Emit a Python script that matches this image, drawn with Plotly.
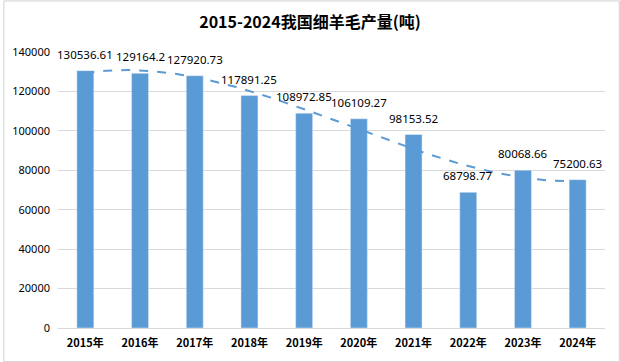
import numpy as np
import plotly.graph_objects as go

years = ["2015年", "2016年", "2017年", "2018年", "2019年", "2020年", "2021年", "2022年", "2023年", "2024年"]
output = [130536.61, 129164.2, 127920.73, 117891.25, 108972.85, 106109.27, 98153.52, 68798.77, 80068.66, 75200.63]
labels = ["130536.61", "129164.2", "127920.73", "117891.25", "108972.85", "106109.27", "98153.52", "68798.77", "80068.66", "75200.63"]

xs = list(range(len(years)))
coef = np.polyfit(xs, output, 3)
xt = np.linspace(0, len(years) - 1, 200)
yt = np.polyval(coef, xt)

fig = go.Figure()
fig.add_trace(go.Bar(x=xs, y=output, marker_color="#5B9BD5", width=0.31, hoverinfo="y"))
fig.add_trace(go.Scatter(x=xt, y=yt, mode="lines", line=dict(color="#5B9BD5", width=2, dash="dash"), hoverinfo="skip"))

for i, (v, t) in enumerate(zip(output, labels)):
    fig.add_annotation(x=i, y=v, text=t, showarrow=False, yanchor="bottom", yshift=7,
                       font=dict(size=11.5, color="#000000", family="Noto Sans, Noto Sans CJK SC"))

fig.add_shape(type="rect", xref="paper", yref="paper", x0=-0.099, x1=1.026, y0=-0.122, y1=1.185,
              line=dict(color="#D0D0D0", width=1))

fig.update_layout(
    width=620, height=362,
    margin=dict(l=55, r=15, t=52, b=34),
    paper_bgcolor="white", plot_bgcolor="white",
    showlegend=False,
    title=dict(text="<b>2015-2024我国细羊毛产量(吨)</b>", x=0.5, xanchor="center", y=0.937, yanchor="middle",
               font=dict(size=16, color="#000000", family="Noto Sans CJK SC")),
    xaxis=dict(tickvals=xs, ticktext=["<b>%s</b>" % y for y in years], range=[-0.5, 9.5],
               showgrid=False, showline=True, linecolor="#D9D9D9", ticks="", ticklabelstandoff=5,
               tickfont=dict(size=11, color="#000000", family="Noto Sans CJK SC")),
    yaxis=dict(range=[0, 140000], dtick=20000, showgrid=True, gridcolor="#D9D9D9", zeroline=False,
               tickformat="d", ticks="", ticklabelstandoff=7,
               tickfont=dict(size=11, color="#000000", family="Noto Sans, Noto Sans CJK SC")),
)

fig.write_html("out.html", config={"displayModeBar": False},
               post_script="document.body.style.margin='0';document.body.style.overflow='hidden';")
